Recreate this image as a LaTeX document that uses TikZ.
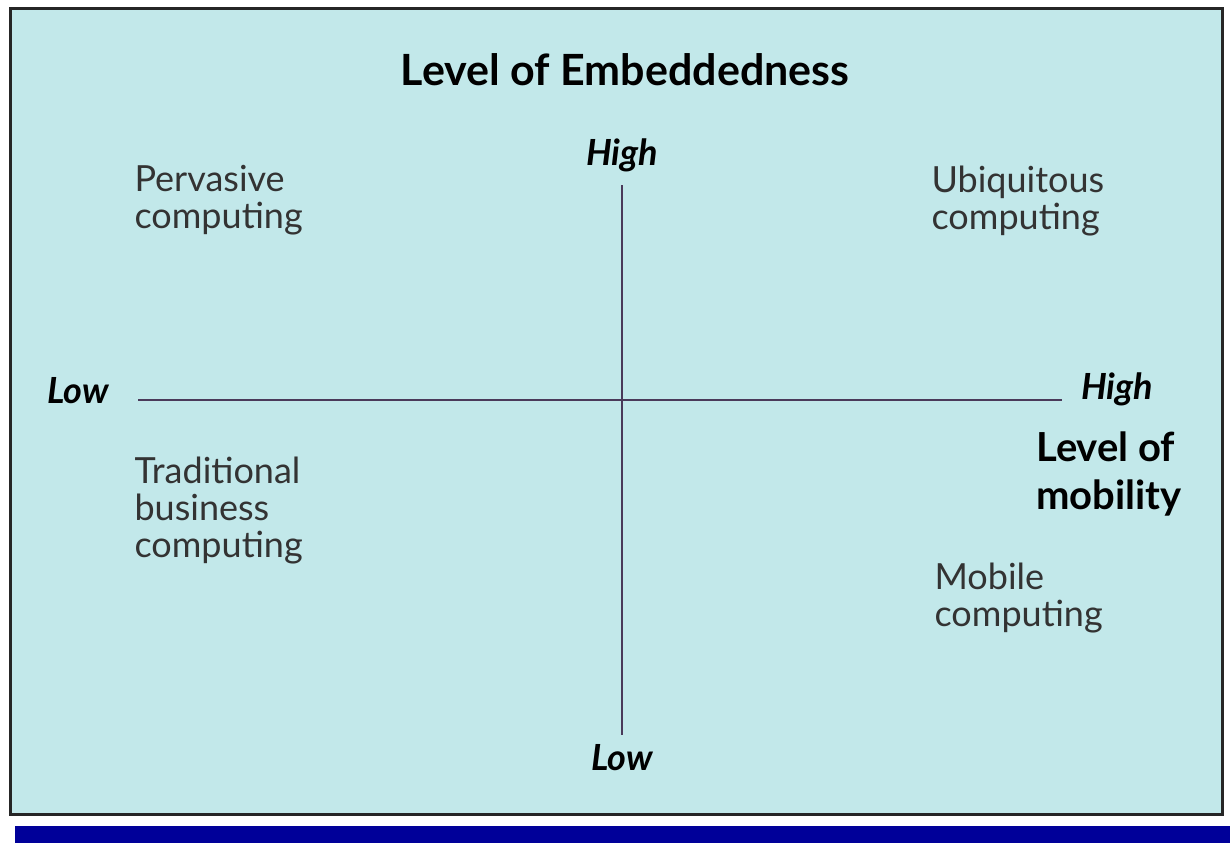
\documentclass[tikz,border=0pt]{standalone}
\usepackage{fontspec}
\setmainfont{Lato}
\definecolor{panelfill}{RGB}{194,232,234}
\definecolor{axiscol}{RGB}{74,58,90}
\definecolor{barblue}{RGB}{0,0,153}
\tikzset{
  quad/.style={anchor=north west, align=left, font=\fontsize{36}{37}\selectfont, text=black!80},
  axislab/.style={font=\fontsize{36}{40}\selectfont\bfseries\itshape},
  axisline/.style={draw=axiscol, line width=2pt}
}
\begin{document}
\begin{tikzpicture}[x=1pt, y=-1pt]
            \useasboundingbox (0, 0) rectangle (1230, 843);
            \draw[fill=panelfill, draw=black!85, line width=3pt] (10, 9) rectangle (1222, 814);
            \fill[barblue] (15, 826) rectangle (1230, 843);

            \coordinate (L) at (138, 400);
            \coordinate (R) at (1062, 400);
            \coordinate (T) at (622, 185);
            \coordinate (B) at (622, 735);

            \draw[axisline] (L) -- (R);
            \draw[axisline] (T) -- (B);

            \node[font=\fontsize{43}{48}\selectfont\bfseries] (title) at (625, 70) {Level of Embeddedness};
            \node[axislab] (ehigh) at (622, 155) {High};
            \node[axislab] (elow) at (622, 758) {Low};
            \node[axislab] (mlow) at (78, 391) {Low};
            \node[axislab] (mhigh) at (1117, 389) {High};
            \node[anchor=north west, align=left, font=\fontsize{40}{48}\selectfont\bfseries, inner sep=0pt] (mob) at (1036, 432) {Level of\\mobility};

            \node[quad] (perv) at (131, 162) {Pervasive\\computing};
            \node[quad] (ubiq) at (928, 162) {Ubiquitous\\computing};
            \node[quad] (trad) at (131, 453) {Traditional\\business\\computing};
            \node[quad] (mobc) at (931, 559) {Mobile\\computing};
        \end{tikzpicture}
\end{document}
